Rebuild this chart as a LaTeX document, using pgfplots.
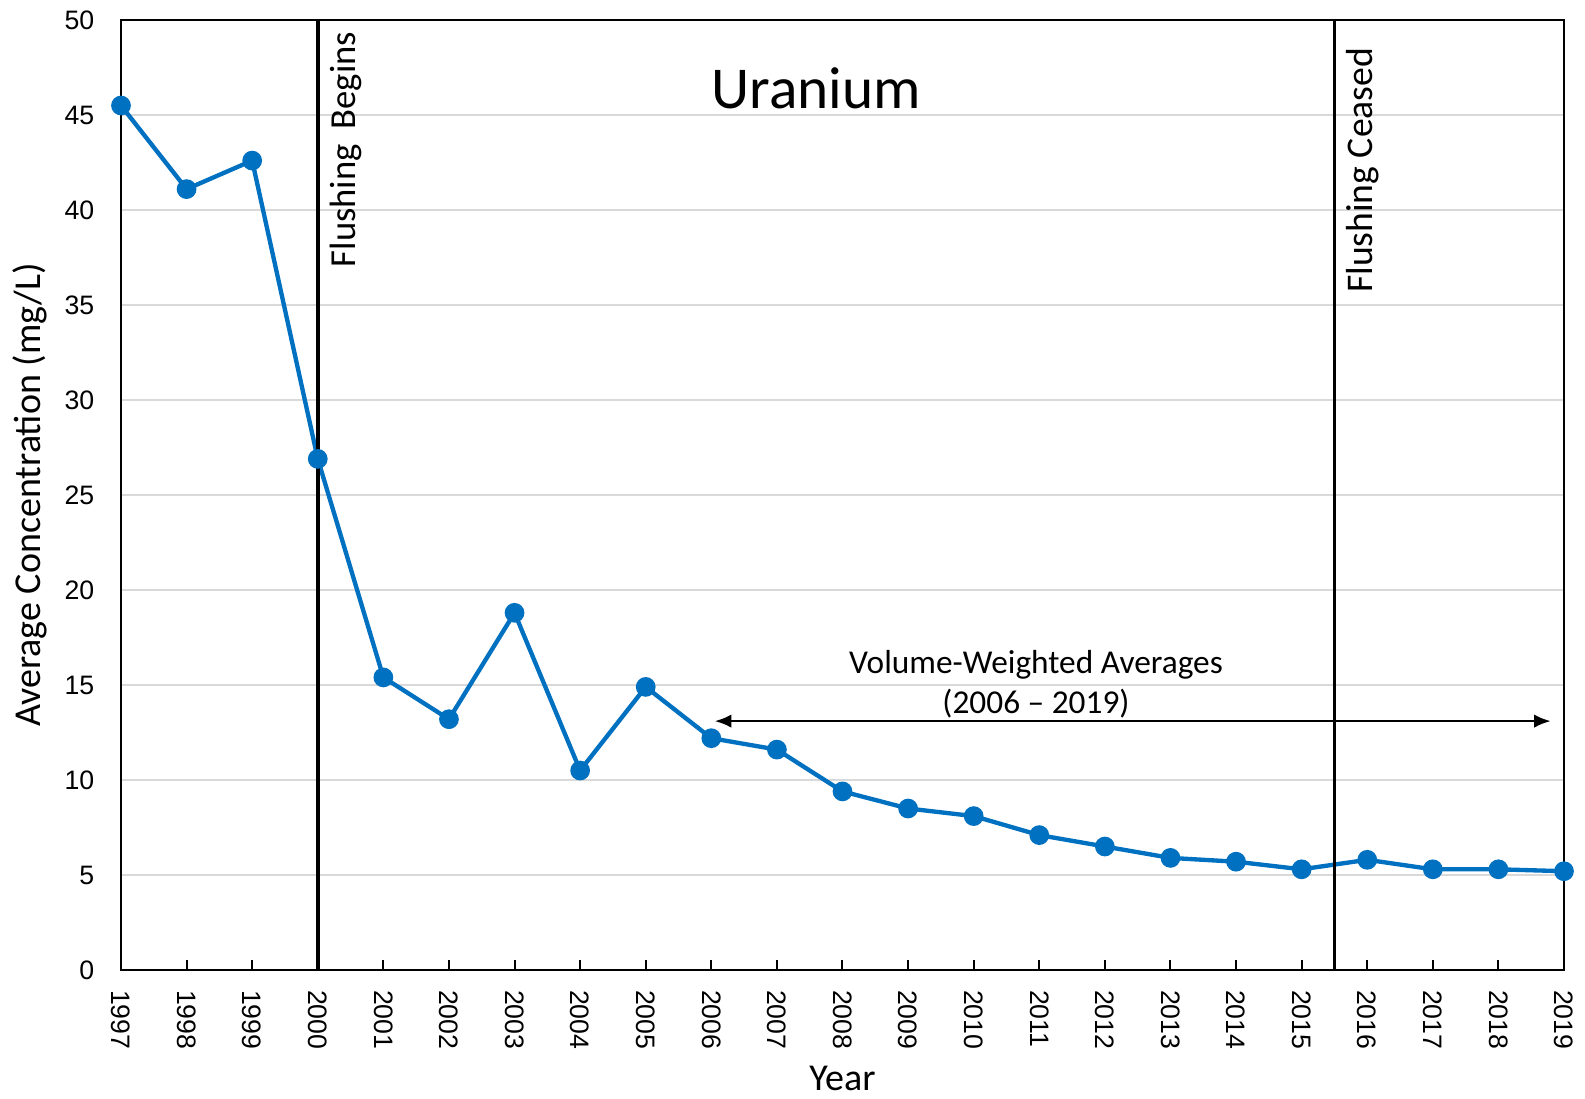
\documentclass[border=0pt]{standalone}
\usepackage{pgfplots}
\pgfplotsset{compat=1.18}
\usepackage{fontspec}
\setmainfont{Carlito}
\newfontfamily\tickfont{Liberation Sans}
\usetikzlibrary{arrows.meta}
\definecolor{exblue}{HTML}{0070C0}
\begin{document}
\begin{tikzpicture}
\begin{axis}[name=ax,
  width=432.9pt, height=285pt, scale only axis,
  xmin=1997, xmax=2019, ymin=0, ymax=50,
  xtick={1997,...,2019}, ytick={0,5,...,50},
  /pgf/number format/assume math mode=true,
  /pgf/number format/1000 sep={},
  x tick label style={yshift=-2.5pt, rotate=-90, anchor=west, font=\tickfont\fontsize{8}{9}\selectfont},
  y tick label style={font=\tickfont\fontsize{8}{9}\selectfont, xshift=-4.5pt},
  ymajorgrids, grid style={draw=black!15, line width=0.6pt},
  ytick style={draw=none},
  xtick pos=lower, tick align=inside, major tick length=3pt,
  xtick style={black, line width=0.6pt},
  axis line style={line width=0.7pt},
  xlabel={Year}, ylabel={Average Concentration (mg/L)},
  label style={font=\fontsize{11.4}{13}\selectfont},
  xlabel style={at={(axis description cs:0.5,0)}, anchor=center, yshift=-32.4pt},
  ylabel style={at={(axis description cs:0,0.5)}, anchor=center, xshift=0pt, yshift=27.2pt},
  clip=false,
]
\addplot[exblue, line width=1.3pt, mark=*, mark size=2.3pt, mark options={fill=exblue, draw=exblue}] coordinates {
(1997,45.5) (1998,41.1) (1999,42.6) (2000,26.9) (2001,15.4) (2002,13.2)
(2003,18.8) (2004,10.5) (2005,14.9) (2006,12.2) (2007,11.6) (2008,9.4)
(2009,8.5) (2010,8.1) (2011,7.1) (2012,6.5) (2013,5.9) (2014,5.7)
(2015,5.3) (2016,5.8) (2017,5.3) (2018,5.3) (2019,5.2)};
\draw[black, line width=1.1pt] (axis cs:2000,0) -- (axis cs:2000,50);
\draw[black, line width=1.1pt] (axis cs:2015.5,0) -- (axis cs:2015.5,50);
\node[rotate=90, anchor=north, font=\fontsize{11}{13}\selectfont, xshift=0.5pt] at (axis cs:2000,43.1) {Flushing\hspace{2pt} Begins};
\node[rotate=90, anchor=north, font=\fontsize{11.3}{13}\selectfont, xshift=0.5pt] at (axis cs:2015.5,42.0) {Flushing Ceased};
\node[font=\fontsize{17.8}{21}\selectfont] at (axis cs:2007.6,46.4) {Uranium};
\node[font=\fontsize{10}{12}\selectfont] at (axis cs:2010.95,16.05) {Volume-Weighted Averages};
\node[font=\fontsize{10}{12}\selectfont] at (axis cs:2010.95,14.0) {(2006 -- 2019)};
\draw[{Latex[length=5pt,width=4pt]}-{Latex[length=5pt,width=4pt]}, line width=0.8pt] (axis cs:2006.05,13.1) -- (axis cs:2018.8,13.1);
\end{axis}
\pgfresetboundingbox
\path ([xshift=-36.3pt,yshift=-38.4pt]ax.south west) rectangle ([xshift=6.3pt,yshift=6pt]ax.north east);
\end{tikzpicture}
\end{document}
